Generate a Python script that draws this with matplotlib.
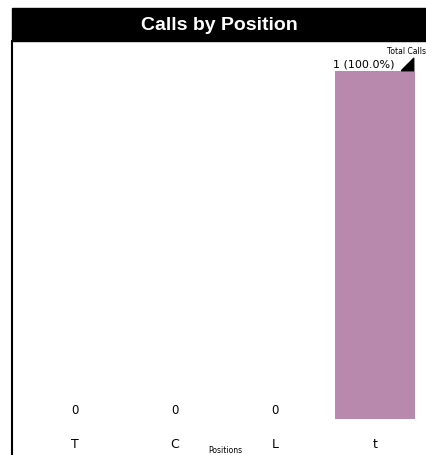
import matplotlib
matplotlib.use("Agg")
from matplotlib import pyplot as plt
from matplotlib.patches import Rectangle
from matplotlib.lines import Line2D

positions = ["T", "C", "L", "t"]
calls = [0, 0, 0, 1]
total = sum(calls)
bar_color = "#b888ad"

W, H = 427, 456
fig = plt.figure(figsize=(W / 100, H / 100), dpi=100)

# title bar and left border
fig.patches.append(Rectangle((12 / W, 1 - 42 / H), 1 - 12 / W, 33 / H,
                             transform=fig.transFigure, color="black", zorder=0))
fig.lines.append(Line2D([12.5 / W, 12.5 / W], [0, 1 - 42 / H],
                        transform=fig.transFigure, color="black", lw=1.5))
fig.text((12 / W + 1) / 2, 1 - 26 / H, "Calls by Position", color="white",
         fontsize=14, fontweight="bold", family="Liberation Sans",
         ha="center", va="center")

ax = fig.add_axes([25 / W, 36 / H, 400 / W, (420 - 50) / H])
x = range(len(positions))
ax.bar(x, calls, width=0.8, color=bar_color)
ax.set_xlim(-0.5, len(positions) - 0.5)
ax.set_ylim(0, 370 / 348)
for s in ax.spines.values():
    s.set_visible(False)
ax.set_yticks([])
ax.set_xticks(list(x))
ax.set_xticklabels(positions, fontsize=9, family="DejaVu Sans")
ax.tick_params(axis="x", length=0, pad=13)
ax.set_xlabel("Positions", fontsize=5.5, va="center")
ax.xaxis.set_label_coords(0.5, -31 / 370)

for i, v in enumerate(calls):
    if v == 0:
        ax.annotate(str(v), (i, 0), xytext=(0, 2), textcoords="offset points",
                    ha="center", va="bottom", fontsize=8.5)
    else:
        ax.annotate(f"{v} ({v / total * 100:.1f}%)", (i, v), xytext=(-8, 2),
                    textcoords="offset points", ha="center", va="bottom",
                    fontsize=8, clip_on=False)

imax = calls.index(max(calls))
ax.plot([imax + 0.32], [max(calls) + 0.02], marker=[(-1, -1), (1, -1), (1, 1), (-1, -1)],
        color="black", markersize=9, clip_on=False)
fig.text(1 - 1 / W, 1 - 52 / H, "Total Calls", fontsize=5.5, ha="right", va="center")

fig.savefig("out.png", dpi=100)
